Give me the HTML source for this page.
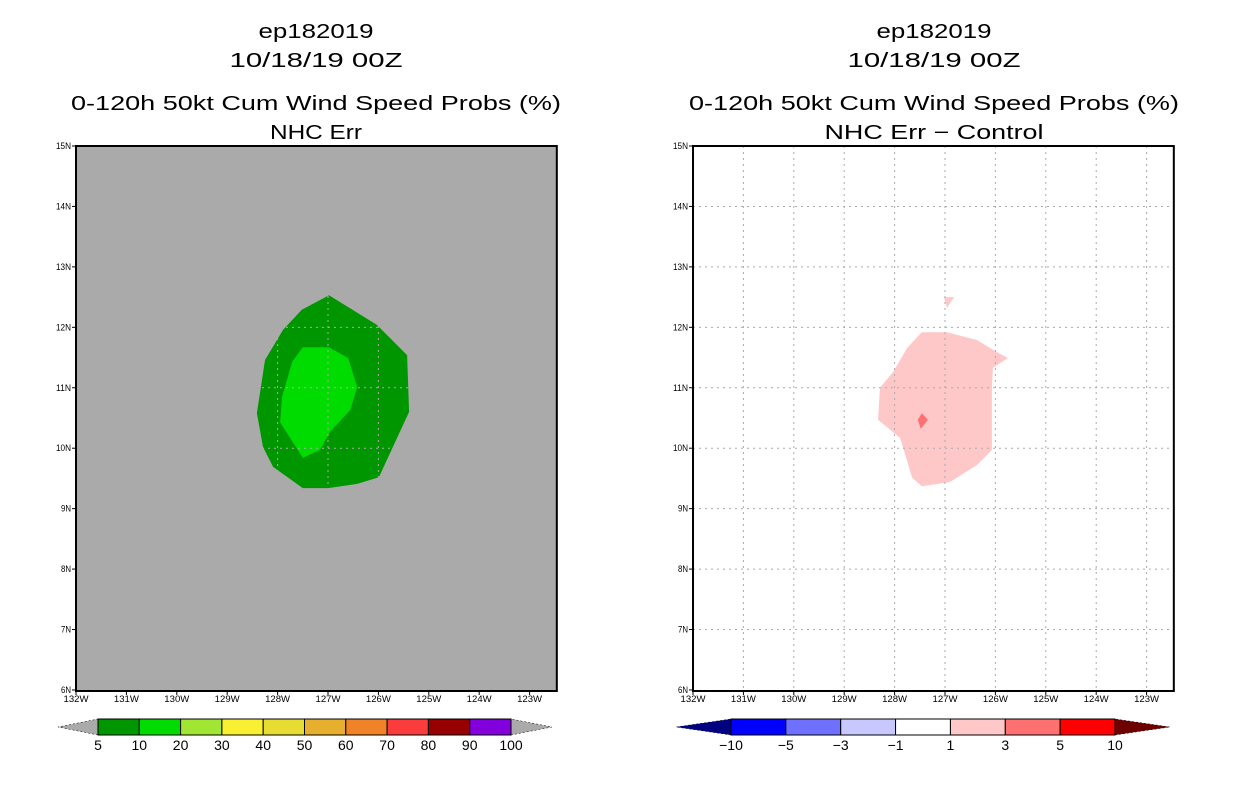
<!DOCTYPE html>
<html><head><meta charset="utf-8"><style>
html,body{margin:0;padding:0;background:#fff}
svg{display:block;font-family:"Liberation Sans",sans-serif}
</style></head><body>
<svg id="chart" width="1236" height="800" viewBox="0 0 1236 800"></svg>
<script>
// ---- data ----
const lonTicks = [132,131,130,129,128,127,126,125,124,123];
const latTicks = [15,14,13,12,11,10,9,8,7,6];
const probOuter = [[126.98,12.53],[126.03,12.04],[125.43,11.54],[125.39,10.6],[125.99,9.52],[126.42,9.41],[127.0,9.34],[127.5,9.34],[128.09,9.69],[128.29,10.02],[128.41,10.58],[128.25,11.46],[127.89,11.96],[127.52,12.29]];
const probInner = [[127.5,11.67],[126.98,11.67],[126.6,11.49],[126.42,11.01],[126.56,10.63],[126.96,10.27],[127.16,9.97],[127.5,9.84],[127.95,10.43],[127.91,10.85],[127.71,11.43]];
const diffMain = [[127.46,11.92],[126.96,11.92],[126.37,11.79],[125.97,11.59],[125.75,11.49],[126.05,11.33],[126.07,11.0],[126.07,9.97],[126.37,9.72],[126.9,9.44],[127.46,9.37],[127.65,9.51],[127.89,10.17],[128.33,10.47],[128.29,11.0],[128.03,11.26],[127.75,11.66]];
const diffSmall = [[127.02,12.5],[126.82,12.5],[126.96,12.32]];
const diffDiamond = [[127.46,10.58],[127.34,10.47],[127.48,10.32],[127.54,10.47]];
const probLevels = ["5","10","20","30","40","50","60","70","80","90","100"];
const probColors = ["#009600","#00dc00","#a0e632","#faf032","#e6dc32","#e6af2d","#f08228","#fa3c3c","#960000","#8200dc"];
const diffLevels = ["-10","-5","-3","-1","1","3","5","10"];
const diffColors = ["#0000ff","#7070ff","#c8c8ff","#ffffff","#ffc8c8","#ff7070","#ff0000"];

const NS="http://www.w3.org/2000/svg";
const svg=document.getElementById('chart');
function mk(tag,attrs,parent){const e=document.createElementNS(NS,tag);for(const k in attrs)e.setAttribute(k,attrs[k]);(parent||svg).appendChild(e);return e;}
const TOP=146,BOT=691,PXLON=50.4,PXLAT=60.44;
function xs(x0){return lonW=>x0+(132-lonW)*PXLON;}
function ys(lat){return TOP+(15-lat)*PXLAT;}
function pts(arr,X){return arr.map(p=>X(p[0]).toFixed(1)+','+ys(p[1]).toFixed(1)).join(' ');}

function titles(cx,sub,subLen,g){
  const lines=[["ep182019",38,20,115],["10/18/19 00Z",67,20,173],["0-120h 50kt Cum Wind Speed Probs (%)",110,20,490],[sub,139,20,subLen]];
  lines.forEach((l,i)=>{const a={x:cx,y:l[1],'font-size':l[2],'text-anchor':'middle',fill:'#000'};if(l[3]){a.textLength=l[3];a.lengthAdjust='spacingAndGlyphs';}
    const t=mk('text',a,g);t.textContent=l[0];
    
    });
}
function panel(x0,bg,name){
  const g=mk('g',{});
  
  
  const X=xs(x0);const W=9.54*PXLON;
  const r=mk('rect',{x:x0,y:TOP,width:W,height:BOT-TOP,fill:bg},g);
  
  
  return {g,X,W};
}
function grid(p,x0){
  lonTicks.slice(1).forEach(l=>{const ln=mk('line',{x1:p.X(l),x2:p.X(l),y1:TOP,y2:BOT,stroke:'#aaaaaa','stroke-dasharray':'2,4'},p.g);
    
    });
  latTicks.slice(1,-1).forEach(l=>{const ln=mk('line',{x1:x0,x2:x0+p.W,y1:ys(l),y2:ys(l),stroke:'#aaaaaa','stroke-dasharray':'2,4'},p.g);
    
    });
}
function axes(p,x0){
  const b=mk('rect',{x:x0,y:TOP,width:p.W,height:BOT-TOP,fill:'none',stroke:'#000','stroke-width':2},p.g);
  
  
  latTicks.forEach(l=>{mk('line',{x1:x0-4,x2:x0,y1:ys(l),y2:ys(l),stroke:'#000'},p.g);
    const lbl=l+'N';
    const t=mk('text',{x:x0-5,y:ys(l)+3,'font-size':9,'text-anchor':'end',textLength:lbl.length>2?15:10,lengthAdjust:'spacingAndGlyphs'},p.g);t.textContent=lbl;
    
    });
  lonTicks.forEach(l=>{mk('line',{x1:p.X(l),x2:p.X(l),y1:BOT,y2:BOT+4,stroke:'#000'},p.g);
    const t=mk('text',{x:p.X(l),y:BOT+11,'font-size':9,'text-anchor':'middle',textLength:25,lengthAdjust:'spacingAndGlyphs'},p.g);t.textContent=l+'W';
    
    });
}
function colorbar(x0,x1,tip0,tip1,colors,levels,lc,rc,name){
  const g=mk('g',{});
  
  
  const y0=719,y1=735,w=(x1-x0)/colors.length;
  mk('polygon',{points:`${x0},${y0} ${x0},${y1} ${tip0},${(y0+y1)/2}`,fill:lc,stroke:'#000','stroke-width':0.5,'stroke-dasharray':'2,2'},g);
  mk('polygon',{points:`${x1},${y0} ${x1},${y1} ${tip1},${(y0+y1)/2}`,fill:rc,stroke:'#000','stroke-width':0.5,'stroke-dasharray':'2,2'},g);
  colors.forEach((c,i)=>{const r=mk('rect',{x:x0+i*w,y:y0,width:w,height:y1-y0,fill:c,stroke:'#000','stroke-width':1},g);
    
    });
  levels.forEach((l,i)=>{const t=mk('text',{x:x0+i*w,y:750,'font-size':14,'text-anchor':'middle'},g);t.textContent=l.replace('-','\u2212');
    
    });
}

// left panel
const L=panel(76,'#aaaaaa','left-map-panel');
const po=mk('polygon',{points:pts(probOuter,L.X),fill:'#009600'},L.g);


const pi=mk('polygon',{points:pts(probInner,L.X),fill:'#00dc00'},L.g);


grid(L,76);axes(L,76);
titles(316,'NHC Err',92,L.g);
colorbar(98,511,58,552,probColors,probLevels,'#aaaaaa','#aaaaaa','prob-colorbar');

// right panel
const R=panel(693,'#ffffff','right-map-panel');
const dm=mk('polygon',{points:pts(diffMain,R.X),fill:'#ffc8c8'},R.g);


const ds=mk('polygon',{points:pts(diffSmall,R.X),fill:'#ffc8c8'},R.g);


const dd=mk('polygon',{points:pts(diffDiamond,R.X),fill:'#ff7070'},R.g);


grid(R,693);axes(R,693);
titles(934,'NHC Err \u2212 Control',219,R.g);
colorbar(731,1115,676,1170,diffColors,diffLevels,'#000080','#6e0000','diff-colorbar');
</script>
</body></html>
